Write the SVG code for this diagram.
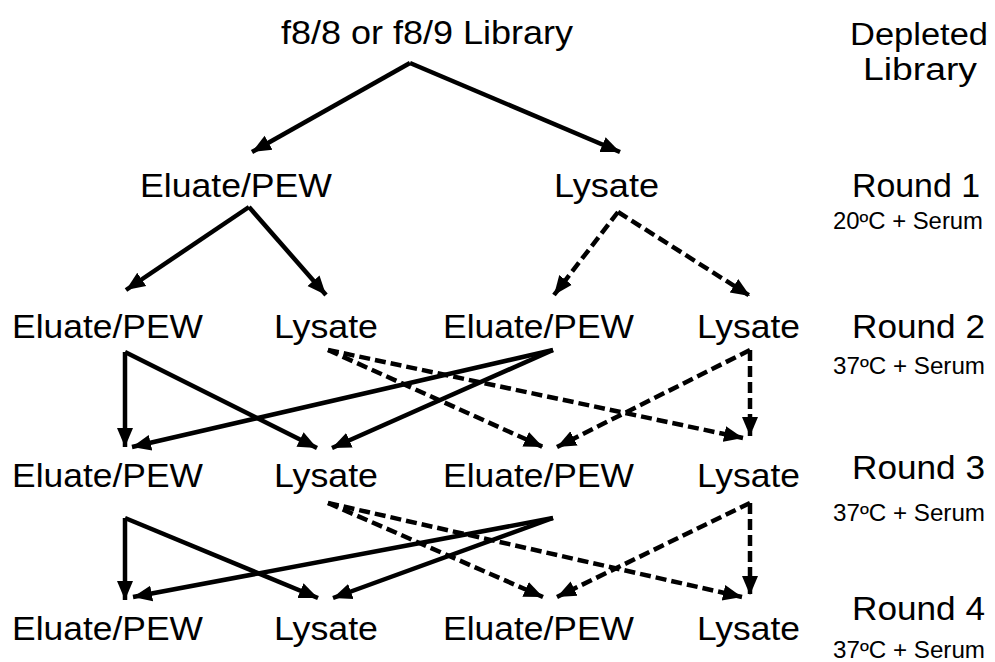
<svg xmlns="http://www.w3.org/2000/svg" width="995" height="662" viewBox="0 0 995 662">
  <defs>
    <marker id="ah" markerUnits="userSpaceOnUse" markerWidth="20" markerHeight="18" refX="19" refY="9" orient="auto">
      <path d="M0,1 L19,9 L0,17 z" fill="#000"/>
    </marker>
    <style>
      .t { font-family: "Liberation Sans", Arial, Helvetica, sans-serif; fill: #000; }
      .big { font-size: 34px; }
      .top { font-size: 34px; }
      .mid { font-size: 31px; }
      .small { font-size: 23px; }
      .c { stroke: #000; stroke-width: 4.5; fill: none; marker-end: url(#ah); }
      .d { stroke-dasharray: 11 5; }
    </style>
  </defs>
  <rect width="995" height="662" fill="#fff"/>

  <g id="connectors">
    <line class="c" x1="410" y1="63" x2="252" y2="152"/>
    <line class="c" x1="410" y1="63" x2="620" y2="152"/>
    <line class="c" x1="249" y1="207" x2="126" y2="290"/>
    <line class="c" x1="249" y1="207" x2="326" y2="295"/>
    <line class="c d" x1="618" y1="212" x2="554" y2="295"/>
    <line class="c d" x1="618" y1="212" x2="750" y2="296"/>

    <line class="c" x1="125" y1="352" x2="125" y2="447"/>
    <line class="c" x1="125" y1="352" x2="317" y2="448"/>
    <line class="c" x1="553" y1="350" x2="132" y2="447"/>
    <line class="c" x1="553" y1="350" x2="332" y2="448"/>
    <line class="c d" x1="328" y1="350" x2="543" y2="447"/>
    <line class="c d" x1="328" y1="350" x2="743" y2="438"/>
    <line class="c d" x1="750" y1="350" x2="750" y2="436"/>
    <line class="c d" x1="750" y1="350" x2="557" y2="447"/>

    <line class="c" x1="125" y1="518" x2="125" y2="600"/>
    <line class="c" x1="125" y1="518" x2="318" y2="598"/>
    <line class="c" x1="553" y1="518" x2="133" y2="597"/>
    <line class="c" x1="553" y1="518" x2="333" y2="598"/>
    <line class="c d" x1="328" y1="503" x2="543" y2="597"/>
    <line class="c d" x1="328" y1="503" x2="742" y2="597"/>
    <line class="c d" x1="750" y1="503" x2="750" y2="595"/>
    <line class="c d" x1="750" y1="503" x2="557" y2="597"/>
  </g>

  <g id="library"><text class="t top" x="281" y="44" textLength="292" lengthAdjust="spacingAndGlyphs">f8/8 or f8/9 Library</text></g>

  <g id="r1-eluate"><text class="t big" x="140" y="197" textLength="192" lengthAdjust="spacingAndGlyphs">Eluate/PEW</text></g>
  <g id="r1-lysate"><text class="t big" x="554" y="197" textLength="105" lengthAdjust="spacingAndGlyphs">Lysate</text></g>

  <g id="r2-eluate-a"><text class="t big" x="12" y="338" textLength="191" lengthAdjust="spacingAndGlyphs">Eluate/PEW</text></g>
  <g id="r2-lysate-a"><text class="t big" x="274" y="338" textLength="104" lengthAdjust="spacingAndGlyphs">Lysate</text></g>
  <g id="r2-eluate-b"><text class="t big" x="443" y="338" textLength="191" lengthAdjust="spacingAndGlyphs">Eluate/PEW</text></g>
  <g id="r2-lysate-b"><text class="t big" x="697" y="338" textLength="103" lengthAdjust="spacingAndGlyphs">Lysate</text></g>

  <g id="r3-eluate-a"><text class="t big" x="12" y="487" textLength="191" lengthAdjust="spacingAndGlyphs">Eluate/PEW</text></g>
  <g id="r3-lysate-a"><text class="t big" x="274" y="487" textLength="104" lengthAdjust="spacingAndGlyphs">Lysate</text></g>
  <g id="r3-eluate-b"><text class="t big" x="443" y="487" textLength="191" lengthAdjust="spacingAndGlyphs">Eluate/PEW</text></g>
  <g id="r3-lysate-b"><text class="t big" x="697" y="487" textLength="103" lengthAdjust="spacingAndGlyphs">Lysate</text></g>

  <g id="r4-eluate-a"><text class="t big" x="12" y="640" textLength="191" lengthAdjust="spacingAndGlyphs">Eluate/PEW</text></g>
  <g id="r4-lysate-a"><text class="t big" x="274" y="640" textLength="104" lengthAdjust="spacingAndGlyphs">Lysate</text></g>
  <g id="r4-eluate-b"><text class="t big" x="443" y="640" textLength="191" lengthAdjust="spacingAndGlyphs">Eluate/PEW</text></g>
  <g id="r4-lysate-b"><text class="t big" x="697" y="640" textLength="103" lengthAdjust="spacingAndGlyphs">Lysate</text></g>

  <g id="label-depleted">
    <text class="t mid" x="850" y="45" textLength="138" lengthAdjust="spacingAndGlyphs">Depleted</text>
    <text class="t mid" x="863" y="80" textLength="114" lengthAdjust="spacingAndGlyphs">Library</text>
  </g>
  <g id="label-round1">
    <text class="t big" x="852" y="197" textLength="128" lengthAdjust="spacingAndGlyphs">Round 1</text>
    <text class="t small" x="833" y="229" textLength="150" lengthAdjust="spacingAndGlyphs">20ºC + Serum</text>
  </g>
  <g id="label-round2">
    <text class="t big" x="852" y="338" textLength="133" lengthAdjust="spacingAndGlyphs">Round 2</text>
    <text class="t small" x="833" y="374" textLength="152" lengthAdjust="spacingAndGlyphs">37ºC + Serum</text>
  </g>
  <g id="label-round3">
    <text class="t big" x="852" y="479" textLength="133" lengthAdjust="spacingAndGlyphs">Round 3</text>
    <text class="t small" x="833" y="521" textLength="152" lengthAdjust="spacingAndGlyphs">37ºC + Serum</text>
  </g>
  <g id="label-round4">
    <text class="t big" x="852" y="620" textLength="133" lengthAdjust="spacingAndGlyphs">Round 4</text>
    <text class="t small" x="833" y="658" textLength="152" lengthAdjust="spacingAndGlyphs">37ºC + Serum</text>
  </g>
</svg>
